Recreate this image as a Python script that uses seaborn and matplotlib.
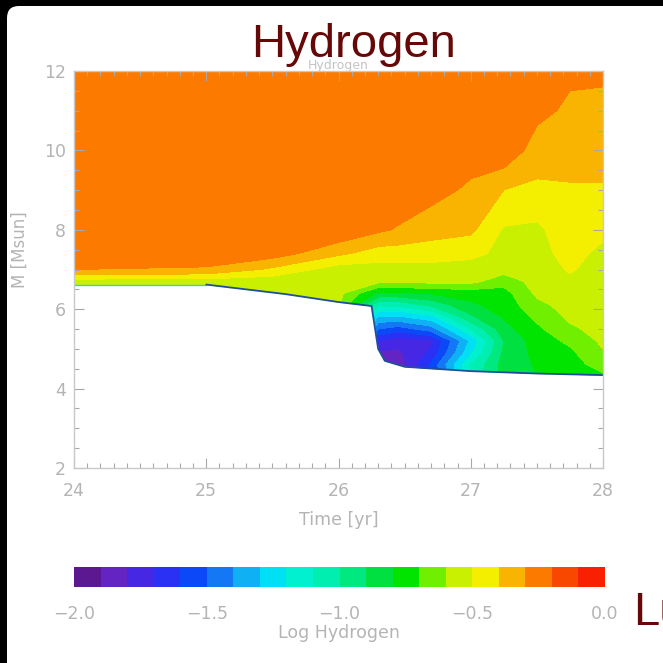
import numpy as np
import matplotlib
matplotlib.use("Agg")
import matplotlib.pyplot as plt
import seaborn as sns
from matplotlib.colors import ListedColormap, BoundaryNorm
from matplotlib.patches import FancyBboxPatch
from matplotlib.ticker import MultipleLocator
import matplotlib.cm as cm

# ---------------- data ----------------
times = [24.0, 25.0, 25.5, 26.0, 26.3, 26.45, 26.7, 27.0, 27.25, 27.5, 27.75, 28.0]
masses = [4.3, 4.6, 4.9, 5.2, 5.5, 5.8, 6.1, 6.4, 6.7, 7.0, 7.4, 8.0, 9.0, 10.0, 11.0, 12.0]

# log hydrogen, one list per time column (bottom -> top in mass)
logh_t24_00 = [-0.55, -0.55, -0.55, -0.55, -0.55, -0.55, -0.55, -0.55, -0.55, -0.30, -0.25, -0.25, -0.25, -0.25, -0.25, -0.25]
logh_t25_00 = [-0.55, -0.55, -0.55, -0.55, -0.55, -0.55, -0.55, -0.55, -0.55, -0.31, -0.25, -0.25, -0.25, -0.25, -0.25, -0.25]
logh_t25_50 = [-0.57, -0.57, -0.57, -0.57, -0.57, -0.57, -0.57, -0.57, -0.56, -0.42, -0.25, -0.25, -0.25, -0.25, -0.25, -0.25]
logh_t26_00 = [-0.58, -0.58, -0.58, -0.58, -0.58, -0.58, -0.58, -0.57, -0.56, -0.55, -0.38, -0.21, -0.25, -0.25, -0.25, -0.25]
logh_t26_30 = [-1.85, -1.85, -1.82, -1.70, -1.50, -1.32, -1.08, -0.82, -0.57, -0.54, -0.45, -0.28, -0.25, -0.25, -0.25, -0.25]
logh_t26_45 = [-1.90, -1.87, -1.82, -1.76, -1.55, -1.32, -1.08, -0.82, -0.57, -0.54, -0.45, -0.31, -0.22, -0.25, -0.25, -0.25]
logh_t26_70 = [-1.62, -1.58, -1.68, -1.72, -1.45, -1.24, -0.98, -0.79, -0.57, -0.54, -0.45, -0.36, -0.26, -0.25, -0.25, -0.25]
logh_t27_00 = [-1.08, -1.10, -1.22, -1.28, -1.10, -0.92, -0.82, -0.76, -0.57, -0.55, -0.47, -0.38, -0.32, -0.25, -0.25, -0.25]
logh_t27_25 = [-0.86, -0.86, -0.88, -0.90, -0.84, -0.79, -0.76, -0.74, -0.66, -0.56, -0.53, -0.51, -0.40, -0.22, -0.25, -0.25]
logh_t27_50 = [-0.80, -0.79, -0.77, -0.75, -0.72, -0.68, -0.63, -0.58, -0.56, -0.55, -0.54, -0.52, -0.42, -0.35, -0.27, -0.25]
logh_t27_75 = [-0.76, -0.74, -0.72, -0.68, -0.62, -0.58, -0.56, -0.54, -0.52, -0.49, -0.46, -0.44, -0.41, -0.36, -0.32, -0.28]
logh_t28_00 = [-0.72, -0.66, -0.61, -0.58, -0.56, -0.55, -0.55, -0.55, -0.55, -0.54, -0.53, -0.47, -0.41, -0.36, -0.33, -0.28]

# lower edge of the model grid (below: no data)
edge_time = [24.0, 25.0, 25.3, 25.6, 26.0, 26.25, 26.3, 26.35, 26.5, 27.0, 27.5, 28.0]
edge_mass = [6.62, 6.62, 6.50, 6.38, 6.18, 6.08, 5.00, 4.70, 4.55, 4.44, 4.38, 4.34]

# colour table (one colour per 0.1 step from -2.0 to 0.0)
bin_colors = ["#5c1890", "#6424c4", "#4628e4", "#2a30f4", "#0a48f8",
              "#1478f4", "#10b0f4", "#00e0f4", "#00f0d0", "#00eeb0",
              "#00e880", "#00e040", "#00e400", "#70f000", "#c8f000",
              "#f4ee00", "#f8b400", "#fc7a00", "#f84800", "#f82000"]
levels = [-2.0, -1.9, -1.8, -1.7, -1.6, -1.5, -1.4, -1.3, -1.2, -1.1, -1.0,
          -0.9, -0.8, -0.7, -0.6, -0.5, -0.4, -0.3, -0.2, -0.1, 0.0]
cbar_ticks = [-2.0, -1.5, -1.0, -0.5, 0.0]
cbar_ticklabels = ["\u22122.0", "\u22121.5", "\u22121.0", "\u22120.5", "0.0"]
x_ticks = [24, 25, 26, 27, 28]
y_ticks = [2, 4, 6, 8, 10, 12]

# ---------------- style ----------------
sns.set_theme(style="white")
plt.rcParams["font.family"] = ["DejaVu Sans"]
GRAY = "#b4b4b4"
DARKRED = "#660808"

fig = plt.figure(figsize=(6.63, 6.63), dpi=100)
fig.patch.set_facecolor("black")

panel = FancyBboxPatch((7 / 663, -0.2), 1.3, 1.2 - 6 / 663,
                       boxstyle="round,pad=0,rounding_size=0.018",
                       transform=fig.transFigure, facecolor="white",
                       edgecolor="none", zorder=-5)
fig.patches.append(panel)

ax = fig.add_axes([74 / 663, 1 - 468 / 663, (603 - 74) / 663, (468 - 71) / 663])
ax.set_facecolor("white")
ax.set_zorder(2)
ax.set_axisbelow(False)

cmap = ListedColormap(sns.color_palette(bin_colors))
norm = BoundaryNorm(levels, cmap.N)

field = np.array([logh_t24_00, logh_t25_00, logh_t25_50, logh_t26_00, logh_t26_30,
                  logh_t26_45, logh_t26_70, logh_t27_00, logh_t27_25, logh_t27_50,
                  logh_t27_75, logh_t28_00]).T
ax.contourf(times, masses, field, levels=levels, cmap=cmap, norm=norm, zorder=1)

# blank out region below the model edge
ax.fill_between(edge_time, 1.0, edge_mass, color="white", lw=0, zorder=1.5)
ax.plot(edge_time[:2], edge_mass[:2], color="#50c8c0", lw=1.0, zorder=1.6)
ax.plot(edge_time[1:], edge_mass[1:], color="#1f4f9a", lw=1.3, zorder=1.6)

ax.set_xlim(24, 28)
ax.set_ylim(2, 12)
ax.set_xticks(x_ticks)
ax.set_yticks(y_ticks)
ax.xaxis.set_minor_locator(MultipleLocator(0.1))
ax.yaxis.set_minor_locator(MultipleLocator(0.5))
ax.tick_params(which="both", direction="in", bottom=True, left=True,
               top=True, right=True,
               color="#a8a8a8", width=0.8, labelcolor=GRAY, labelsize=12.5)
ax.tick_params(which="major", length=7)
ax.tick_params(which="minor", length=3.5)
ax.tick_params(axis="x", pad=10)
ax.tick_params(axis="y", pad=6)
for s in ax.spines.values():
    s.set_color("#c8c8c8")
    s.set_linewidth(1.0)
    s.set_zorder(3)
ax.set_xlabel("")
ax.set_ylabel("")

# colorbar
cax = fig.add_axes([74 / 663, 1 - 587 / 663, (605 - 74) / 663, 20 / 663])
cax.set_zorder(2)
sm = cm.ScalarMappable(norm=norm, cmap=cmap)
cb = fig.colorbar(sm, cax=cax, orientation="horizontal", ticks=cbar_ticks)
cb.outline.set_visible(False)
cb.ax.minorticks_off()
cb.ax.set_xticklabels(cbar_ticklabels)
cb.ax.tick_params(which="both", length=0, pad=13, labelsize=12.5, labelcolor=GRAY)

# texts
fig.text(338.5 / 663, 1 - 520 / 663, "Time [yr]", ha="center", va="center",
         fontsize=12.5, color=GRAY)
fig.text(20 / 663, 1 - 250 / 663, "M [Msun]", ha="center", va="center",
         rotation=90, fontsize=12, color=GRAY)
fig.text(338.5 / 663, 1 - 633 / 663, "Log Hydrogen", ha="center", va="center",
         fontsize=12.5, color=GRAY)
fig.text(338.5 / 663, 1 - 65 / 663, "Hydrogen", ha="center", va="center",
         fontsize=9, color="#c4c4c4", zorder=1)
fig.text(354 / 663, 1 - 57 / 663, "Hydrogen", ha="center", va="baseline",
         fontsize=34, color=DARKRED, family=["Liberation Sans"], zorder=5)
fig.text(633 / 663, 1 - 625 / 663, "Lu", ha="left", va="baseline",
         fontsize=34, color=DARKRED, family=["Liberation Sans"], zorder=5)

fig.savefig("out.png", dpi=100, facecolor=fig.get_facecolor())
